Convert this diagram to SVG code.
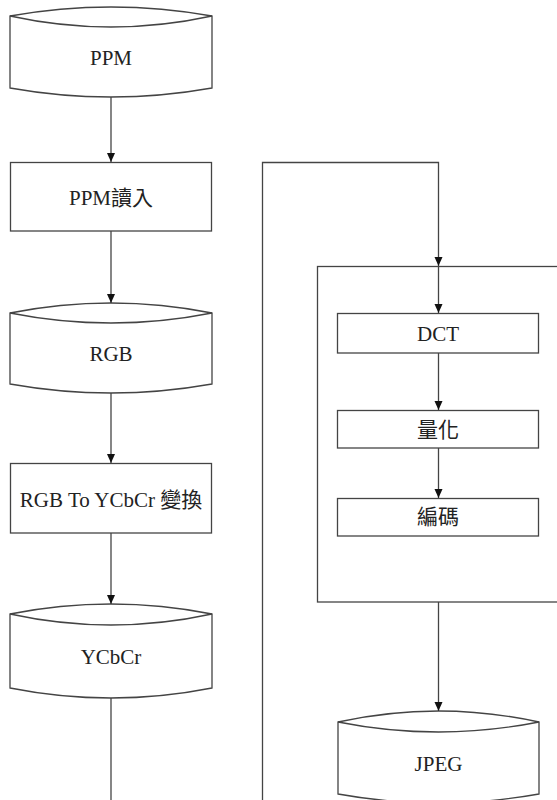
<svg xmlns="http://www.w3.org/2000/svg" width="557" height="800" viewBox="0 0 557 800">
<style>
.s{fill:#fff;stroke:#444;stroke-width:1.3}
.l{fill:none;stroke:#444;stroke-width:1.3}
.t{font-family:"Liberation Serif","Noto Sans CJK TC",serif;font-size:21px;fill:#222;text-anchor:middle}
</style>
<defs>
<marker id="a" markerWidth="10" markerHeight="10" refX="9" refY="5" orient="auto" markerUnits="userSpaceOnUse">
<path d="M0,1 L9,5 L0,9 Z" fill="#111"/>
</marker>
</defs>
<rect width="557" height="800" fill="#fff"/>
<g id="frame">
<rect class="s" x="317.5" y="266.5" width="250" height="335.5"/>
</g>
<g id="ppm">
<path class="s" d="M10,16 Q111,-2 212,16 L212,88 Q111,106 10,88 Z"/>
<path class="l" d="M10,16 Q111,38 212,16"/>
<text class="t" x="111" y="65">PPM</text>
</g>
<g id="ppmread">
<rect class="s" x="10.5" y="162.5" width="201" height="68.5"/>
<text class="t" x="111" y="205">PPM讀入</text>
</g>
<g id="rgb">
<path class="s" d="M10,313 Q111,293 212,313 L212,384 Q111,402 10,384 Z"/>
<path class="l" d="M10,313 Q111,333 212,313"/>
<text class="t" x="111" y="361">RGB</text>
</g>
<g id="convert">
<rect class="s" x="10.5" y="463.5" width="201" height="69.5"/>
<text class="t" x="111" y="507">RGB To YCbCr 變換</text>
</g>
<g id="ycbcr">
<path class="s" d="M10,614 Q111,594 212,614 L212,688 Q111,708 10,688 Z"/>
<path class="l" d="M10,614 Q111,636 212,614"/>
<text class="t" x="111" y="664">YCbCr</text>
</g>
<g id="dct">
<rect class="s" x="337.5" y="313.5" width="201" height="39.5"/>
<text class="t" x="438" y="341">DCT</text>
</g>
<g id="quant">
<rect class="s" x="337.5" y="410.5" width="201" height="37.5"/>
<text class="t" x="438" y="437">量化</text>
</g>
<g id="encode">
<rect class="s" x="337.5" y="498.5" width="201" height="37.5"/>
<text class="t" x="438" y="524">編碼</text>
</g>
<g id="jpeg">
<path class="s" d="M338,722 Q438.5,700 539,722 L539,794 Q438.5,812 338,794 Z"/>
<path class="l" d="M338,722 Q438.5,742 539,722"/>
<text class="t" x="438.5" y="771">JPEG</text>
</g>
<g id="connectors">
<path class="l" d="M111,97 L111,162" marker-end="url(#a)"/>
<path class="l" d="M111,231 L111,303" marker-end="url(#a)"/>
<path class="l" d="M111,393 L111,463" marker-end="url(#a)"/>
<path class="l" d="M111,533 L111,604" marker-end="url(#a)"/>
<path class="l" d="M111,698 L111,800"/>
<path class="l" d="M262.5,800 L262.5,162.5 L438.5,162.5 L438.5,266" marker-end="url(#a)"/>
<path class="l" d="M438.5,267 L438.5,313" marker-end="url(#a)"/>
<path class="l" d="M438.5,353 L438.5,410" marker-end="url(#a)"/>
<path class="l" d="M438.5,448 L438.5,498" marker-end="url(#a)"/>
<path class="l" d="M438.5,602 L438.5,711" marker-end="url(#a)"/>
</g>
</svg>
